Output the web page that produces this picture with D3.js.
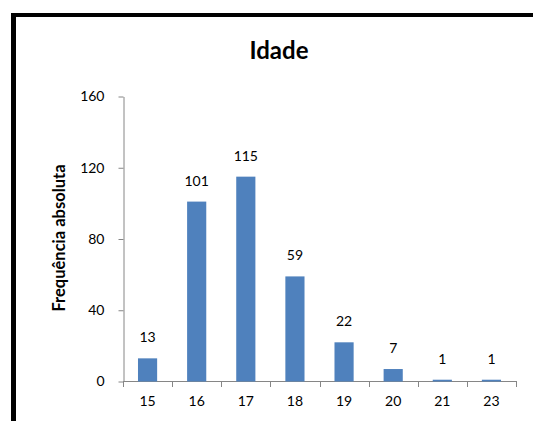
<!DOCTYPE html>
<html><head><meta charset="utf-8">
<script src="https://cdn.jsdelivr.net/npm/d3@7"></script>
<style>body{margin:0;background:#fff}svg{display:block}</style>
</head><body>
<script>
const categories = ["15","16","17","18","19","20","21","23"];
const values = [13,101,115,59,22,7,1,1];
const yTicks = [0,40,80,120,160];
const title = "Idade";
const yLabel = "Frequência absoluta";

const W = 533, H = 421;
const svg = d3.select("body").append("svg").attr("width", W).attr("height", H);
svg.append("rect").attr("width", W).attr("height", H).attr("fill", "#fff");
// frame
svg.append("rect").attr("x", 11).attr("y", 13).attr("width", W - 11).attr("height", 4).attr("fill", "#000");
svg.append("rect").attr("x", 11).attr("y", 13).attr("width", 5).attr("height", H - 13).attr("fill", "#000");

const x0 = 123, x1 = 516;
const x = d3.scaleBand().domain(categories).range([x0, x1]).paddingInner(0.61).paddingOuter(0.305);
const y = d3.scaleLinear().domain([0, 160]).range([381.5, 96.5]);
const font = "Lato, 'Open Sans', sans-serif";

// y axis
const ya = svg.append("g").attr("transform", `translate(${x0 + 0.5},0)`)
  .call(d3.axisLeft(y).tickValues(yTicks).tickSize(5).tickPadding(14).tickSizeOuter(0));
ya.select(".domain").attr("stroke", "#868686");
ya.selectAll(".tick line").attr("stroke", "#868686");
ya.selectAll(".tick text").attr("font-family", font).attr("font-size", 14).attr("fill", "#000");

// x axis
const xa = svg.append("g").attr("transform", "translate(0,381.5)")
  .call(d3.axisBottom(x).tickSize(0).tickPadding(15).tickSizeOuter(0));
xa.select(".domain").attr("stroke", "#868686").attr("d", `M${x0},0H${x1}`);
xa.selectAll(".tick text").attr("font-family", font).attr("font-size", 14).attr("fill", "#000");
// category boundary ticks
const half = (x.step() - x.bandwidth()) / 2;
const boundaries = categories.map(c => x(c) - half).concat([x(categories[categories.length - 1]) + x.bandwidth() + half]);
svg.append("g").selectAll("line").data(boundaries).join("line")
  .attr("x1", d => Math.round(d) + 0.5).attr("x2", d => Math.round(d) + 0.5)
  .attr("y1", 381).attr("y2", 387).attr("stroke", "#868686");

// bars
svg.append("g").selectAll("rect").data(values).join("rect")
  .attr("x", (d, i) => x(categories[i]))
  .attr("width", x.bandwidth())
  .attr("y", d => y(d))
  .attr("height", d => y(0) - y(d))
  .attr("fill", "#4F81BD");

// labels
svg.append("g").selectAll("text").data(values).join("text")
  .attr("x", (d, i) => x(categories[i]) + x.bandwidth() / 2)
  .attr("y", d => y(d) - 16)
  .attr("text-anchor", "middle")
  .attr("font-family", font).attr("font-size", 14).attr("fill", "#000")
  .text(d => d);

// title
svg.append("text").attr("x", 279).attr("y", 59).attr("text-anchor", "middle")
  .attr("font-family", font).attr("font-weight", "bold").attr("font-size", 24).attr("fill", "#000")
  .text(title);

// y label
svg.append("text").attr("transform", "translate(65,238) rotate(-90)")
  .attr("text-anchor", "middle")
  .attr("font-family", font).attr("font-weight", "bold").attr("font-size", 16.5).attr("fill", "#000")
  .text(yLabel);
</script>
</body></html>
